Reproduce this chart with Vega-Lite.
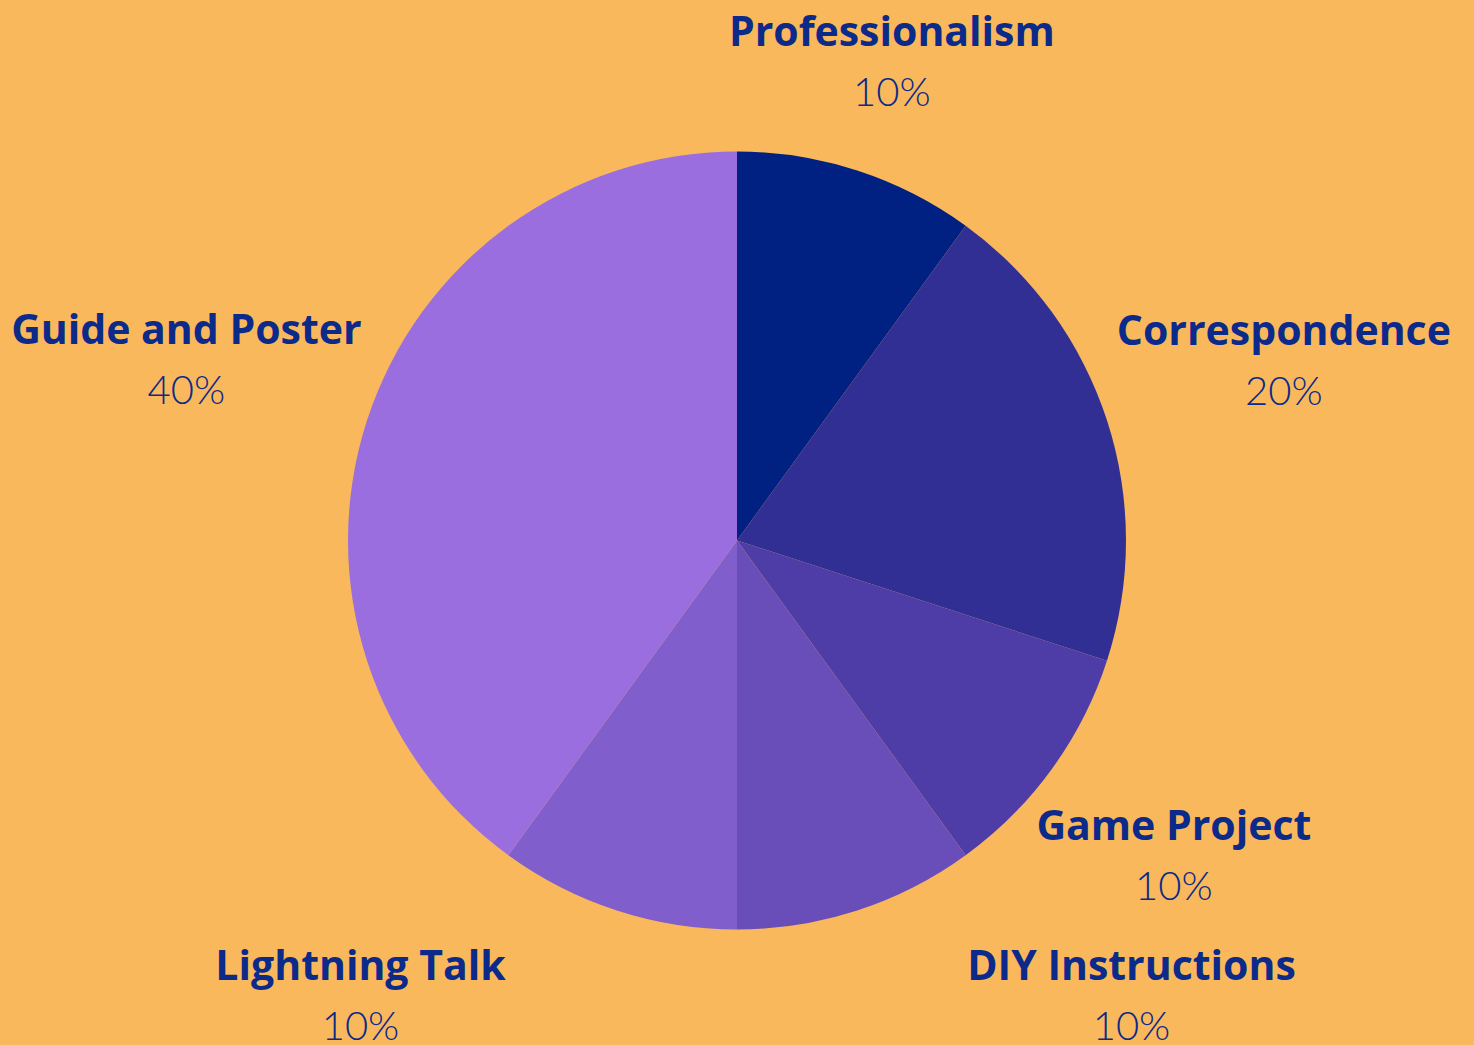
{
  "$schema": "https://vega.github.io/schema/vega-lite/v6.json",
  "width": 1474,
  "height": 1045,
  "autosize": {"type": "fit", "contains": "padding"},
  "padding": {"top": 31, "left": 0, "right": 0, "bottom": 0},
  "background": "#FAB85C",
  "config": {"view": {"stroke": null}},
  "data": {"values": [
    {"category": "Professionalism", "value": 10, "order": 1},
    {"category": "Correspondence", "value": 20, "order": 2},
    {"category": "Game Project", "value": 10, "order": 3},
    {"category": "DIY Instructions", "value": 10, "order": 4},
    {"category": "Lightning Talk", "value": 10, "order": 5},
    {"category": "Guide and Poster", "value": 40, "order": 6}
  ]},
  "resolve": {"scale": {"theta": "independent"}},
  "layer": [
    {
      "mark": {"type": "arc", "outerRadius": 389, "stroke": null},
      "encoding": {
        "theta": {"field": "value", "type": "quantitative", "stack": true},
        "order": {"field": "order", "type": "quantitative"},
        "color": {
          "field": "category", "type": "nominal", "legend": null,
          "scale": {
            "domain": ["Professionalism", "Correspondence", "Game Project", "DIY Instructions", "Lightning Talk", "Guide and Poster"],
            "range": ["#002082", "#312F94", "#4E3DA7", "#694DB9", "#805ECC", "#9A6EDF"]
          }
        }
      }
    },
    {
      "transform": [
        {"stack": "value", "groupby": [], "sort": [{"field": "order"}], "as": ["v0", "v1"]},
        {"calculate": "(datum.v0 + datum.v1) / 2", "as": "mid"},
        {"calculate": "datum.value + '%'", "as": "pct"}
      ],
      "encoding": {
        "theta": {"field": "mid", "type": "quantitative", "stack": null, "scale": {"domain": [0, 100], "range": [0, 6.283185307]}}
      },
      "layer": [
        {"transform": [{"filter": "datum.category == 'Professionalism'"}], "mark": {"type": "text", "radius": 501, "dy": -30, "font": "Open Sans", "fontWeight": "bold", "fontSize": 41, "color": "#0B2A8A", "baseline": "middle", "align": "center"}, "encoding": {"text": {"field": "category"}}},
        {"transform": [{"filter": "datum.category == 'Professionalism'"}], "mark": {"type": "text", "radius": 501, "dy": 30, "font": "Lato", "fontWeight": 300, "fontSize": 40, "color": "#0B2A8A", "baseline": "middle", "align": "center"}, "encoding": {"text": {"field": "pct"}}},
        {"transform": [{"filter": "datum.category == 'Correspondence'"}], "mark": {"type": "text", "radius": 575, "dy": -30, "font": "Open Sans", "fontWeight": "bold", "fontSize": 41, "color": "#0B2A8A", "baseline": "middle", "align": "center"}, "encoding": {"text": {"field": "category"}}},
        {"transform": [{"filter": "datum.category == 'Correspondence'"}], "mark": {"type": "text", "radius": 575, "dy": 30, "font": "Lato", "fontWeight": 300, "fontSize": 40, "color": "#0B2A8A", "baseline": "middle", "align": "center"}, "encoding": {"text": {"field": "pct"}}},
        {"transform": [{"filter": "datum.category == 'Game Project'"}], "mark": {"type": "text", "radius": 540, "dy": -30, "font": "Open Sans", "fontWeight": "bold", "fontSize": 41, "color": "#0B2A8A", "baseline": "middle", "align": "center"}, "encoding": {"text": {"field": "category"}}},
        {"transform": [{"filter": "datum.category == 'Game Project'"}], "mark": {"type": "text", "radius": 540, "dy": 30, "font": "Lato", "fontWeight": 300, "fontSize": 40, "color": "#0B2A8A", "baseline": "middle", "align": "center"}, "encoding": {"text": {"field": "pct"}}},
        {"transform": [{"filter": "datum.category == 'DIY Instructions'"}], "mark": {"type": "text", "radius": 500, "dx": 240, "dy": -48, "font": "Open Sans", "fontWeight": "bold", "fontSize": 41, "color": "#0B2A8A", "baseline": "middle", "align": "center"}, "encoding": {"text": {"field": "category"}}},
        {"transform": [{"filter": "datum.category == 'DIY Instructions'"}], "mark": {"type": "text", "radius": 500, "dx": 240, "dy": 12, "font": "Lato", "fontWeight": 300, "fontSize": 40, "color": "#0B2A8A", "baseline": "middle", "align": "center"}, "encoding": {"text": {"field": "pct"}}},
        {"transform": [{"filter": "datum.category == 'Lightning Talk'"}], "mark": {"type": "text", "radius": 500, "dx": -222, "dy": -48, "font": "Open Sans", "fontWeight": "bold", "fontSize": 41, "color": "#0B2A8A", "baseline": "middle", "align": "center"}, "encoding": {"text": {"field": "category"}}},
        {"transform": [{"filter": "datum.category == 'Lightning Talk'"}], "mark": {"type": "text", "radius": 500, "dx": -222, "dy": 12, "font": "Lato", "fontWeight": 300, "fontSize": 40, "color": "#0B2A8A", "baseline": "middle", "align": "center"}, "encoding": {"text": {"field": "pct"}}},
        {"transform": [{"filter": "datum.category == 'Guide and Poster'"}], "mark": {"type": "text", "radius": 579, "dy": -30, "font": "Open Sans", "fontWeight": "bold", "fontSize": 41, "color": "#0B2A8A", "baseline": "middle", "align": "center"}, "encoding": {"text": {"field": "category"}}},
        {"transform": [{"filter": "datum.category == 'Guide and Poster'"}], "mark": {"type": "text", "radius": 579, "dy": 30, "font": "Lato", "fontWeight": 300, "fontSize": 40, "color": "#0B2A8A", "baseline": "middle", "align": "center"}, "encoding": {"text": {"field": "pct"}}}
      ]
    }
  ]
}
